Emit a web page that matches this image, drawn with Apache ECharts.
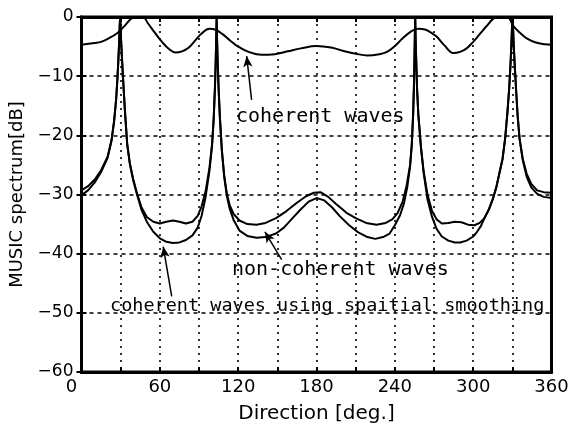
<!DOCTYPE html>
<html><head><meta charset="utf-8">
<script src="https://cdn.jsdelivr.net/npm/echarts@6/dist/echarts.min.js"></script>
<style>html,body{margin:0;padding:0;background:#fff}#c{width:572px;height:425px}</style>
</head><body><div id="c"></div>
<script>
// Tick values
const xTickStep = 30;
const xLabelStep = 60;
const yTicks = [0, -10, -20, -30, -40, -50, -60];

// Coherent waves (no smoothing): [direction deg, dB]
const coherentWaves = [
 [0,-4.7],[10,-4.4],[15,-4.2],[20,-3.7],[27,-2.8],[33,-1.5],[38,-0.3],[42,0],[47,0],[51,-1.1],[56,-2.6],
 [62,-4.3],[67,-5.4],[72,-6.0],[77,-5.8],[82,-5.2],[87,-4.0],[92,-2.8],[98,-2.0],[103,-2.2],[108,-2.9],
 [114,-4.0],[120,-5.0],[128,-5.9],[138,-6.4],[148,-6.3],[158,-5.8],[168,-5.3],[180,-4.9],[192,-5.2],
 [200,-5.7],[210,-6.2],[219,-6.5],[228,-6.3],[234,-5.9],[240,-4.9],[246,-3.6],[252,-2.5],[258,-2.0],
 [263,-2.1],[268,-2.7],[272,-3.3],[278,-4.8],[285,-6.1],[290,-5.9],[295,-5.3],[300,-4.2],[305,-2.9],
 [310,-1.6],[316,-0.2],[320,0],[326,0],[331,-1.6],[336,-2.7],[341,-3.6],[348,-4.3],[355,-4.6],[360,-4.7]
];

// Non-coherent waves
const nonCoherentWaves = [
 [0,-29.3],[5,-28.6],[10,-27.5],[15,-25.9],[20,-23.6],[23,-20.8],[25,-17.5],[26.5,-14],[27.5,-10.5],
 [28.3,-7],[28.9,-3.8],[29.3,-1.3],[29.6,0],[29.9,-1.3],[30.3,-3.8],[31,-7],[32,-11],[33.3,-16],[35,-21.5],
 [37,-24.7],[39.5,-27.3],[42.5,-29.8],[46,-32.2],[50,-33.8],[55,-34.6],[60,-34.9],[65,-34.6],[70,-34.4],
 [75,-34.6],[80,-34.9],[85,-34.6],[89,-33.6],[92,-32],[95,-29.5],[98,-25.5],[100,-21.5],[101.3,-17],
 [102.2,-12],[102.8,-7.5],[103.2,-3.5],[103.5,0],[103.8,-3.5],[104.3,-7.5],[105,-12],[106,-17],[107.5,-22.5],
 [109.3,-26.8],[111.3,-29.8],[113.5,-31.8],[116.5,-33.3],[121,-34.4],[127,-35],[134,-35.1],[141,-34.8],
 [149,-34],[157,-32.8],[165,-31.4],[172,-30.3],[178,-29.7],[183,-29.6],[189,-30.4],[195,-31.6],[203,-33.1],
 [210,-34],[218,-34.8],[226,-35.1],[233,-34.8],[238,-34.2],[242,-33.2],[246,-31.2],[249,-28.5],[251.7,-25],
 [253,-21.5],[254,-16.5],[254.6,-12],[255,-7.5],[255.3,-3.5],[255.6,0],[255.9,-3.5],[256.4,-7.5],[257,-12],
 [258,-16.5],[260,-22],[262,-26],[265,-30],[268.5,-32.8],[272,-34.2],[276,-34.9],[281,-34.8],[286,-34.6],
 [291,-34.7],[296,-35.1],[301,-35.2],[305,-34.8],[308.7,-34],[312,-32.5],[315,-30.8],[317.7,-28.8],
 [320.5,-26],[322.5,-24],[324.5,-20.5],[326.3,-16],[327.6,-12],[328.6,-8],[329.3,-4.5],[329.8,-1.5],
 [330.1,0],[330.5,-1.5],[331,-4.5],[331.8,-8],[332.8,-12],[334,-16.5],[335.5,-20.5],[338,-24],[341,-26.5],
 [344.5,-28.2],[349,-29.3],[354,-29.6],[360,-29.7]
];

// Coherent waves using spatial smoothing
const spatialSmoothing = [
 [0,-30.1],[5,-29.3],[10,-28],[15,-26.2],[20,-23.8],[23,-20.9],[25,-17.6],[26.5,-14],[27.5,-10.5],
 [28.3,-7],[28.9,-3.8],[29.3,-1.3],[29.6,0],[29.9,-1.3],[30.3,-3.8],[31,-7],[32,-11],[33.3,-16],[35,-21.5],
 [37,-24.8],[39.5,-27.5],[42.5,-30],[46,-32.6],[50,-34.6],[55,-36.3],[60,-37.4],[65,-38],[70,-38.2],
 [75,-38.1],[80,-37.7],[85,-36.9],[89,-35.6],[92,-33.6],[95,-30.5],[98,-26],[100,-21.8],[101.3,-17],
 [102.2,-12],[102.8,-7.5],[103.2,-3.5],[103.5,0],[103.8,-3.5],[104.3,-7.5],[105,-12],[106,-17],[107.5,-22.5],
 [109.3,-27],[111.3,-30.2],[113.5,-32.4],[116.5,-34.3],[121,-36.1],[127,-37],[134,-37.3],[141,-37.2],
 [149,-36.6],[155,-35.6],[162,-33.9],[168,-32.5],[174,-31.2],[180,-30.6],[186,-31],[192,-32.2],[198,-33.7],
 [205,-35.2],[212,-36.4],[219,-37.2],[225,-37.5],[231,-37.2],[236,-36.6],[240,-35.2],[244,-33.5],[247,-31.5],
 [249.5,-28.8],[251.7,-25.2],[253,-21.5],[254,-16.5],[254.6,-12],[255,-7.5],[255.3,-3.5],[255.6,0],
 [255.9,-3.5],[256.4,-7.5],[257,-12],[258,-16.5],[260,-22],[262,-26.2],[265,-30.8],[268.5,-33.8],
 [272,-35.8],[276,-37.1],[281,-37.8],[286,-38.1],[290,-38.1],[295,-37.8],[300,-37.1],[303,-36.3],
 [306,-35.3],[309,-33.8],[312,-32.6],[315,-30.8],[317.7,-28.8],[320.5,-26],[322.5,-24],[324.5,-20.5],
 [326.3,-16],[327.6,-12],[328.6,-8],[329.3,-4.5],[329.8,-1.5],[330.1,0],[330.5,-1.5],[331,-4.5],[331.8,-8],
 [332.8,-12],[334,-16.5],[335.5,-20.5],[338,-24.2],[341,-27],[344.5,-28.8],[349,-29.9],[354,-30.4],[360,-30.6]
];

// Annotation arrows [tail, tip] in data coordinates
const arrowCoherent = [[130.3,-14.0],[126.5,-6.6]];
const arrowNonCoherent = [[153.3,-41.0],[140.5,-36.3]];
const arrowSmoothing = [[69.1,-47.2],[62.6,-38.8]];

const annotations = [
  {text:'coherent waves', x:236, y:117, size:20},
  {text:'non-coherent waves', x:232, y:270, size:20},
  {text:'coherent waves using spaitial smoothing', x:110, y:306, size:18.5}
];

const chart = echarts.init(document.getElementById('c'), null, {renderer:'canvas'});
const black = '#000';
const arrowLine = (a) => ({
  type:'line', data:[], silent:true,
  markLine:{
    silent:true, animation:false, symbol:['none','arrow'], symbolSize:[7,11],
    label:{show:false}, lineStyle:{color:black, width:1.5, type:'solid'},
    data:[[{coord:a[0]},{coord:a[1]}]]
  }
});
const curve = (d, smooth) => ({
  type:'line', data:d, showSymbol:false, smooth:smooth, clip:true,
  lineStyle:{color:black, width:2}, emphasis:{disabled:true}
});

chart.setOption({
  animation:false,
  backgroundColor:'#fff',
  grid:{left:81.5, right:20.5, top:17, bottom:53, containLabel:false, outerBoundsMode:'none',
        show:true, borderColor:black, borderWidth:3, backgroundColor:'transparent'},
  xAxis:[{
    type:'value', min:0, max:360, interval:xTickStep,
    axisLine:{show:true, onZero:false, lineStyle:{color:black, width:3}},
    axisTick:{show:true, inside:true, length:5, lineStyle:{color:black, width:2}},
    axisLabel:{
      margin:6, color:black, fontFamily:'DejaVu Sans', fontSize:18,
      formatter:v => (v % xLabelStep === 0) ? (v===0 ? '{z|0}' : String(v)) : '',
      rich:{z:{fontFamily:'DejaVu Sans', fontSize:18, color:black, padding:[0,20,0,0]}}
    },
    splitLine:{show:true, lineStyle:{color:black, width:1.6, type:[2,5]}},
    name:'Direction [deg.]', nameLocation:'middle', nameGap:32,
    nameTextStyle:{color:black, fontFamily:'DejaVu Sans', fontSize:20}
  },{
    type:'value', min:0, max:360, interval:xTickStep, position:'top',
    axisLine:{show:true, lineStyle:{color:black, width:3}},
    axisTick:{show:true, inside:true, length:5, lineStyle:{color:black, width:2}},
    axisLabel:{show:false}, splitLine:{show:false}
  }],
  yAxis:[{
    type:'value', min:-60, max:0, interval:10,
    axisLine:{show:true, onZero:false, lineStyle:{color:black, width:3}},
    axisTick:{show:true, inside:true, length:5, lineStyle:{color:black, width:2}},
    axisLabel:{
      margin:8, color:black, fontFamily:'DejaVu Sans', fontSize:17,
      formatter:v => yTicks.includes(v) ? (v===0 ? '0' : '\u2212' + Math.abs(v)) : ''
    },
    splitLine:{show:true, lineStyle:{color:black, width:1.5, type:[4,4]}},
    name:'MUSIC spectrum[dB]', nameLocation:'middle', nameGap:50, nameRotate:90,
    nameTextStyle:{color:black, fontFamily:'DejaVu Sans', fontSize:18}
  },{
    type:'value', min:-60, max:0, interval:10, position:'right',
    axisLine:{show:true, lineStyle:{color:black, width:3}},
    axisTick:{show:true, inside:true, length:5, lineStyle:{color:black, width:2}},
    axisLabel:{show:false}, splitLine:{show:false}
  }],
  series:[
    curve(coherentWaves, 0.4),
    curve(nonCoherentWaves, false),
    curve(spatialSmoothing, false),
    arrowLine(arrowCoherent),
    arrowLine(arrowNonCoherent),
    arrowLine(arrowSmoothing)
  ],
  graphic: annotations.map(a => ({
    type:'text', x:a.x, y:a.y, silent:true,
    style:{text:a.text, fill:black, font: a.size + 'px "DejaVu Sans Mono"', align:'left', verticalAlign:'middle'}
  }))
});
</script></body></html>
